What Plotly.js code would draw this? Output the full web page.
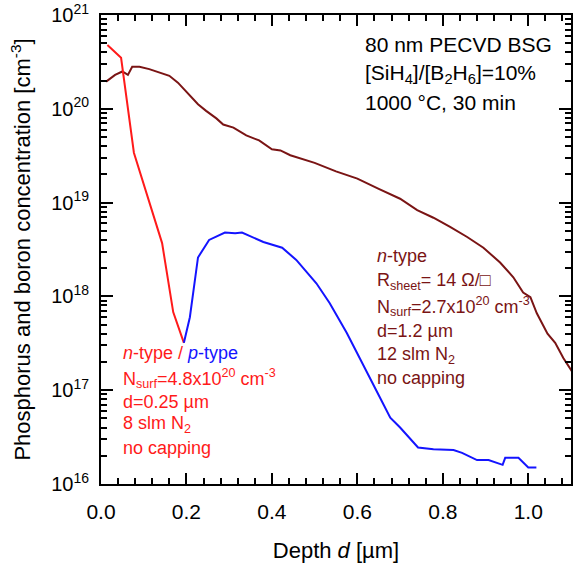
<!DOCTYPE html>
<html>
<head>
<meta charset="utf-8">
<script src="https://cdn.plot.ly/plotly-3.0.1.min.js"></script>
<style>html,body{margin:0;padding:0;background:#fff;}#chart{width:576px;height:563px;}</style>
</head>
<body>
<div id="chart"></div>
<script>
// Red: n-type (phosphorus) profile, 8 slm N2
const depthRed = [0.015, 0.047, 0.077, 0.105, 0.143, 0.169, 0.194];
const concRed  = [4.8e20, 3.5e20, 3.4e19, 1.35e19, 3.7e18, 6.8e17, 3.2e17];

// Blue: p-type (boron) profile
const depthBlue = [0.194, 0.208, 0.227, 0.253, 0.29, 0.314, 0.33, 0.38, 0.424, 0.457, 0.504, 0.535, 0.575, 0.622, 0.66, 0.677, 0.70, 0.742, 0.778, 0.825, 0.845, 0.88, 0.907, 0.94, 0.946, 0.977, 1.0, 1.019];
const concBlue  = [3.2e17, 6.0e17, 2.6e18, 4.0e18, 4.8e18, 4.7e18, 4.8e18, 3.8e18, 3.3e18, 2.45e18, 1.38e18, 8.5e17, 4.1e17, 1.6e17, 7.2e16, 5.1e16, 4.0e16, 2.45e16, 2.35e16, 2.3e16, 2.15e16, 1.8e16, 1.8e16, 1.6e16, 1.9e16, 1.9e16, 1.5e16, 1.5e16];

// Brown: n-type profile, 12 slm N2
const depthBrown = [0.012, 0.033, 0.05, 0.063, 0.073, 0.09, 0.113, 0.138, 0.16, 0.18, 0.20, 0.227, 0.246, 0.27, 0.286, 0.31, 0.34, 0.37, 0.40, 0.42, 0.443, 0.5, 0.55, 0.6, 0.65, 0.70, 0.74, 0.778, 0.817, 0.857, 0.895, 0.934, 0.965, 0.988, 1.005, 1.02, 1.045, 1.063, 1.082, 1.098, 1.11];
const concBrown  = [1.95e20, 2.3e20, 2.5e20, 2.3e20, 2.8e20, 2.8e20, 2.65e20, 2.45e20, 2.25e20, 1.9e20, 1.5e20, 1.12e20, 9.5e19, 7.9e19, 6.8e19, 6.3e19, 5.2e19, 4.6e19, 3.7e19, 3.6e19, 3.2e19, 2.65e19, 2.15e19, 1.8e19, 1.4e19, 1.1e19, 8.3e18, 6.9e18, 5.5e18, 4.3e18, 3.3e18, 2.3e18, 1.6e18, 1.1e18, 9.8e17, 6.6e17, 4.0e17, 3.2e17, 2.2e17, 1.7e17, 1.4e17];

const xTickVals = [0, 0.2, 0.4, 0.6, 0.8, 1.0];
const xTickText = ['0.0', '0.2', '0.4', '0.6', '0.8', '1.0'];
const yTickVals = [1e16, 1e17, 1e18, 1e19, 1e20, 1e21];
const yTickText = ['10<sup>16</sup>', '10<sup>17</sup>', '10<sup>18</sup>', '10<sup>19</sup>', '10<sup>20</sup>', '10<sup>21</sup>'];

const infoBlack = ['80 nm PECVD BSG', '[SiH<sub>4</sub>]/[B<sub>2</sub>H<sub>6</sub>]=10%', '1000 °C, 30 min'];
const infoBrown = ['<i>n</i>-type', 'R<sub>sheet</sub>= 14 Ω/□', 'N<sub>surf</sub>=2.7x10<sup>20</sup> cm<sup>-3</sup>', 'd=1.2 µm', '12 slm N<sub>2</sub>', 'no capping'];
const infoRed = ['<i>n</i>-type / <span style="color:#1414ff"><i>p</i>-type</span>', 'N<sub>surf</sub>=4.8x10<sup>20</sup> cm<sup>-3</sup>', 'd=0.25 µm', '8 slm N<sub>2</sub>', 'no capping'];

const RED = '#ff1a1a', BLUE = '#1414ff', BROWN = '#7a1414', FONT = 'Liberation Sans, Arial, sans-serif';

const traces = [
  {x: depthBrown, y: concBrown, mode: 'lines', line: {color: BROWN, width: 2}, name: 'n-type 12 slm'},
  {x: depthRed, y: concRed, mode: 'lines', line: {color: RED, width: 2}, name: 'n-type 8 slm'},
  {x: depthBlue, y: concBlue, mode: 'lines', line: {color: BLUE, width: 2}, name: 'p-type'}
];

// pixel helpers for annotation placement (plot area 101..571 x, 15..484 y)
const L = 101, R = 571, T = 15, B = 484;
const px = v => (v - L) / (R - L);
const py = v => (B - v) / (B - T);

const annotations = [];
const blackY = [45, 74, 103];
infoBlack.forEach((t, i) => annotations.push({xref: 'paper', yref: 'paper', x: px(363), y: py(blackY[i]), xanchor: 'left', yanchor: 'middle', text: t, showarrow: false, font: {family: FONT, size: 21, color: '#000'}}));
const brownY = [256, 281, 306, 331, 355, 378];
infoBrown.forEach((t, i) => annotations.push({xref: 'paper', yref: 'paper', x: px(375), y: py(brownY[i]), xanchor: 'left', yanchor: 'middle', text: t, showarrow: false, font: {family: FONT, size: 18, color: BROWN}}));
const redY = [353, 378, 402, 424, 448];
infoRed.forEach((t, i) => annotations.push({xref: 'paper', yref: 'paper', x: px(121), y: py(redY[i]), xanchor: 'left', yanchor: 'middle', text: t, showarrow: false, font: {family: FONT, size: 18, color: RED}}));

const layout = {
  width: 576, height: 563,
  margin: {l: L, r: 576 - R, t: T, b: 563 - B},
  paper_bgcolor: '#fff', plot_bgcolor: '#fff',
  showlegend: false,
  font: {family: FONT, color: '#000'},
  xaxis: {
    range: [0, 1.1], showgrid: false, zeroline: false,
    showline: true, linewidth: 2, linecolor: '#000', mirror: 'allticks',
    ticks: 'inside', ticklen: 11, tickwidth: 2, tickcolor: '#000',
    tickvals: xTickVals, ticktext: xTickText,
    tickfont: {family: FONT, size: 21, color: '#000'},
    ticklabelstandoff: 8,
    minor: {dtick: 0.04, ticks: 'inside', ticklen: 6, tickwidth: 2, tickcolor: '#000', showgrid: false},
    title: {text: 'Depth <i>d</i> [µm]', font: {family: FONT, size: 22, color: '#000'}, standoff: 20}
  },
  yaxis: {
    type: 'log', range: [16, 21], showgrid: false, zeroline: false,
    showline: true, linewidth: 2, linecolor: '#000', mirror: 'allticks',
    ticks: 'inside', ticklen: 12, tickwidth: 2, tickcolor: '#000',
    tickvals: yTickVals, ticktext: yTickText,
    tickfont: {family: FONT, size: 20, color: '#000'},
    ticklabelstandoff: 6,
    minor: {dtick: 'D1', ticks: 'inside', ticklen: 6, tickwidth: 2, tickcolor: '#000', showgrid: false},
    title: {text: 'Phosphorus and boron concentration [cm<sup>-3</sup>]', font: {family: FONT, size: 22, color: '#000'}, standoff: 14}
  },
  annotations: annotations
};

Plotly.newPlot('chart', traces, layout, {staticPlot: true, displayModeBar: false});
</script>
</body>
</html>
